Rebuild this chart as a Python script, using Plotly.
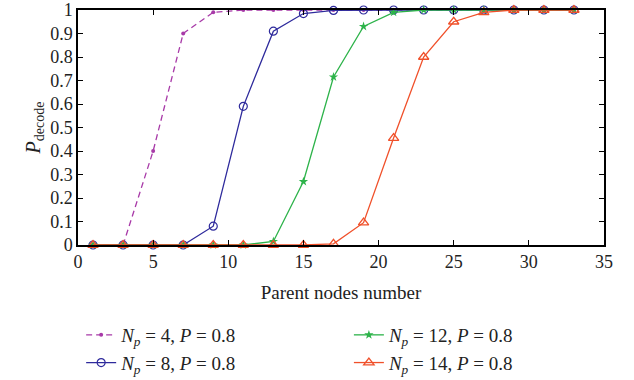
import plotly.graph_objects as go

x_vals = [1, 3, 5, 7, 9, 11, 13, 15, 17, 19, 21, 23, 25, 27, 29, 31, 33]
p_np4 = [0, 0, 0.40, 0.90, 0.99, 1, 1, 1, 1, 1, 1, 1, 1, 1, 1, 1, 1]
p_np8 = [0, 0, 0, 0, 0.08, 0.59, 0.91, 0.985, 0.998, 1, 1, 1, 1, 1, 1, 1, 1]
p_np12 = [0, 0, 0, 0, 0, 0, 0.015, 0.27, 0.715, 0.93, 0.99, 1, 1, 1, 1, 1, 1]
p_np14 = [0, 0, 0, 0, 0, 0, 0, 0, 0.005, 0.095, 0.455, 0.80, 0.95, 0.99, 1, 1, 1]

x_ticks = [0, 5, 10, 15, 20, 25, 30, 35]
y_ticks = [0, 0.1, 0.2, 0.3, 0.4, 0.5, 0.6, 0.7, 0.8, 0.9, 1]
y_tick_labels = ["0", "0.1", "0.2", "0.3", "0.4", "0.5", "0.6", "0.7", "0.8", "0.9", "1"]

names = [
    "<i>N</i><sub><i>p</i></sub> = 4, <i>P</i> = 0.8",
    "<i>N</i><sub><i>p</i></sub> = 8, <i>P</i> = 0.8",
    "<i>N</i><sub><i>p</i></sub> = 12, <i>P</i> = 0.8",
    "<i>N</i><sub><i>p</i></sub> = 14, <i>P</i> = 0.8",
]
FONT = "Liberation Serif, Times New Roman, serif"
TXT = "#222"

fig = go.Figure()
fig.add_trace(go.Scatter(x=x_vals, y=p_np4, name=names[0], mode="lines+markers",
                         line=dict(color="#A83AA8", width=1.3, dash="6px,4px"),
                         marker=dict(symbol="circle", size=4, color="#A83AA8"),
                         cliponaxis=False, legend="legend"))
fig.add_trace(go.Scatter(x=x_vals, y=p_np8, name=names[1], mode="lines+markers",
                         line=dict(color="#2E2A9C", width=1.3),
                         marker=dict(symbol="circle-open", size=8, color="#2E2A9C", line=dict(width=1.2)),
                         cliponaxis=False, legend="legend"))
fig.add_trace(go.Scatter(x=x_vals, y=p_np12, name=names[2], mode="lines+markers",
                         line=dict(color="#2DB34A", width=1.3),
                         marker=dict(symbol="star", size=7, color="#2DB34A"),
                         cliponaxis=False, legend="legend2"))
fig.add_trace(go.Scatter(x=x_vals, y=p_np14, name=names[3], mode="lines+markers",
                         line=dict(color="#F0502A", width=1.3),
                         marker=dict(symbol="triangle-up-open", size=9, color="#F0502A", line=dict(width=1.3)),
                         cliponaxis=False, legend="legend2"))

axis_common = dict(showline=True, linecolor="black", linewidth=1.5, mirror="ticks",
                   ticks="inside", ticklen=5, tickcolor="black", tickwidth=1,
                   showgrid=False, zeroline=False, automargin=False,
                   ticklabeloverflow="allow",
                   tickfont=dict(family=FONT, size=18, color=TXT))

fig.update_xaxes(range=[0, 35], tickmode="array", tickvals=x_ticks,
                 title=dict(text="Parent nodes number", font=dict(family=FONT, size=19, color=TXT), standoff=14),
                 **axis_common)
fig.update_yaxes(range=[0, 1], tickmode="array", tickvals=y_ticks, ticktext=y_tick_labels,
                 title=dict(text="<i>P</i><sub>decode</sub>", font=dict(family=FONT, size=20, color=TXT), standoff=4),
                 **axis_common)

legend_common = dict(font=dict(family=FONT, size=19, color=TXT), bgcolor="rgba(0,0,0,0)",
                     orientation="v", xanchor="left", yanchor="top",
                     itemwidth=30, yref="container")
fig.update_layout(
    width=634, height=380,
    margin=dict(l=78, r=30, t=10, b=135),
    plot_bgcolor="white", paper_bgcolor="white",
    font=dict(family=FONT),
    legend=dict(x=0.006, y=1 - 316 / 380, **legend_common),
    legend2=dict(x=0.515, y=1 - 316 / 380, **legend_common),
)

fig.write_html("out.html")
